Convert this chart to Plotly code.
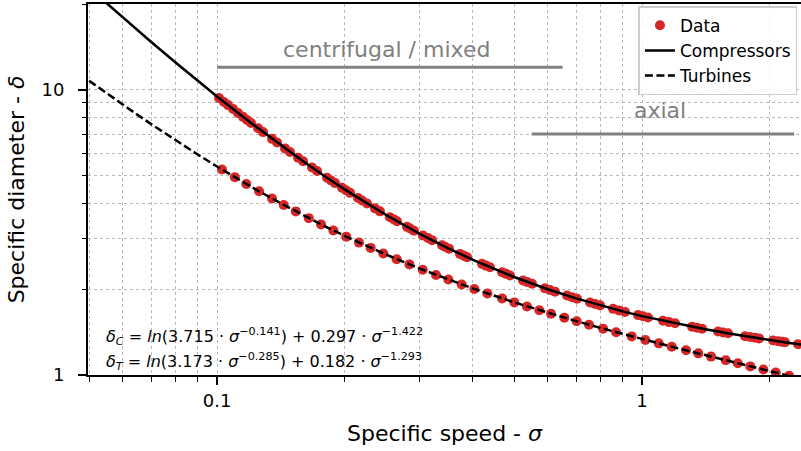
import numpy as np
import plotly.graph_objects as go

# ---------------- data ----------------
comp_sigma = [0.1011, 0.1038, 0.1061, 0.1091, 0.1120, 0.1151, 0.1176, 0.1202, 0.1249, 0.1283,
              0.1347, 0.1384, 0.1445, 0.1485, 0.1551, 0.1594, 0.1673, 0.1719, 0.1815, 0.1854,
              0.1895, 0.1968, 0.2011, 0.2056, 0.2147, 0.2194, 0.2254, 0.2353, 0.2417, 0.2552,
              0.2608, 0.2651, 0.2799, 0.2845, 0.2907, 0.3052, 0.3136, 0.3205, 0.3383, 0.3439,
              0.3514, 0.3729, 0.3811, 0.3874, 0.4201, 0.4293, 0.4387, 0.4685, 0.4786, 0.4891,
              0.5248, 0.5361, 0.5510, 0.5911, 0.6073, 0.6240, 0.6660, 0.6843, 0.7030, 0.7544,
              0.7751, 0.7964, 0.8546, 0.8830, 0.9120, 0.9786, 1.0054, 1.0330, 1.1205, 1.1575,
              1.1958, 1.3110, 1.3470, 1.3840, 1.5095, 1.5509, 1.5935, 1.7474, 1.7954, 1.8448,
              1.8852, 2.0336, 2.0893, 2.1350, 2.1700, 2.3287]
comp_delta = [9.364, 9.067, 8.839, 8.562, 8.296, 8.040, 7.843, 7.651, 7.329, 7.108,
              6.732, 6.534, 6.233, 6.053, 5.780, 5.617, 5.339, 5.192, 4.916, 4.811,
              4.709, 4.537, 4.444, 4.352, 4.178, 4.094, 3.994, 3.840, 3.749, 3.575,
              3.509, 3.461, 3.308, 3.264, 3.207, 3.085, 3.021, 2.971, 2.852, 2.818,
              2.774, 2.659, 2.619, 2.590, 2.453, 2.419, 2.387, 2.292, 2.263, 2.234,
              2.146, 2.121, 2.090, 2.013, 1.986, 1.960, 1.899, 1.875, 1.852, 1.795,
              1.774, 1.755, 1.706, 1.685, 1.664, 1.622, 1.606, 1.591, 1.549, 1.533,
              1.518, 1.476, 1.465, 1.454, 1.420, 1.410, 1.400, 1.368, 1.359, 1.350,
              1.344, 1.321, 1.313, 1.307, 1.303, 1.283]

turb_sigma = [0.1027, 0.1101, 0.1172, 0.1256, 0.1347, 0.1435, 0.1532, 0.1644, 0.1757, 0.1878,
              0.2014, 0.2158, 0.2299, 0.2461, 0.2647, 0.2835, 0.3048, 0.3275, 0.3501, 0.3764,
              0.4030, 0.4325, 0.4685, 0.5005, 0.5361, 0.5732, 0.6107, 0.6564, 0.7019, 0.7503,
              0.8095, 0.8688, 0.9457, 1.0180, 1.0947, 1.1745, 1.2690, 1.3565, 1.4535, 1.5737,
              1.6800, 1.7980, 1.9297, 2.0636, 2.2180]
turb_delta = [5.254, 4.942, 4.677, 4.409, 4.157, 3.948, 3.748, 3.549, 3.374, 3.213,
              3.056, 2.913, 2.791, 2.669, 2.548, 2.443, 2.339, 2.243, 2.161, 2.077,
              2.003, 1.932, 1.856, 1.797, 1.739, 1.687, 1.639, 1.589, 1.543, 1.500,
              1.454, 1.413, 1.366, 1.327, 1.291, 1.257, 1.221, 1.191, 1.160, 1.126,
              1.100, 1.072, 1.045, 1.020, 0.993]

line_sigma = [0.05, 0.055, 0.06, 0.065, 0.07, 0.08, 0.09, 0.1, 0.12, 0.14,
              0.16, 0.18, 0.2, 0.25, 0.3, 0.35, 0.4, 0.5, 0.6, 0.7,
              0.8, 0.9, 1.0, 1.2, 1.4, 1.6, 1.8, 2.0, 2.2, 2.4]
line_comp = [22.76, 20.08, 17.93, 16.18, 14.72, 12.45, 10.77, 9.483, 7.667, 6.455,
             5.592, 4.958, 4.468, 3.640, 3.127, 2.782, 2.535, 2.206, 1.998, 1.856,
             1.752, 1.672, 1.609, 1.516, 1.449, 1.398, 1.358, 1.326, 1.298, 1.275]
line_turb = [10.76, 9.723, 8.872, 8.170, 7.580, 6.644, 5.936, 5.384, 4.582, 4.028,
             3.623, 3.314, 3.071, 2.643, 2.361, 2.161, 2.011, 1.798, 1.652, 1.545,
             1.461, 1.394, 1.337, 1.246, 1.177, 1.120, 1.072, 1.031, 0.9955, 0.9638]

centrifugal_sigma = [0.1, 0.65]
centrifugal_delta = [12, 12]
axial_sigma = [0.55, 2.28]
axial_delta = [7, 7]

x_tickvals = [0.1, 1]
x_ticktext = ["0.1", "1"]
y_tickvals = [1, 10]
y_ticktext = ["1", "10"]
x_limits = [0.0497, 2.366]
y_limits = [1, 20]

eq_comp = ("<i>δ</i><sub><i>C</i></sub> = <i>ln</i>(3.715 · <i>σ</i><sup>−0.141</sup>)"
           " + 0.297 · <i>σ</i><sup>−1.422</sup>")
eq_turb = ("<i>δ</i><sub><i>T</i></sub> = <i>ln</i>(3.173 · <i>σ</i><sup>−0.285</sup>)"
           " + 0.182 · <i>σ</i><sup>−1.293</sup>")

# ---------------- figure ----------------
RED = "#d62728"
GRAY = "#808080"
FONT = "DejaVu Sans"

fig = go.Figure()
fig.add_trace(go.Scatter(x=comp_sigma, y=comp_delta, mode="markers", name="Data",
                         legendgroup="data",
                         marker=dict(color=RED, size=10, line=dict(width=0))))
fig.add_trace(go.Scatter(x=turb_sigma, y=turb_delta, mode="markers", name="Data",
                         legendgroup="data", showlegend=False,
                         marker=dict(color=RED, size=10, line=dict(width=0))))
fig.add_trace(go.Scatter(x=line_sigma, y=line_comp, mode="lines", name="Compressors",
                         line=dict(color="black", width=2.5)))
fig.add_trace(go.Scatter(x=line_sigma, y=line_turb, mode="lines", name="Turbines",
                         line=dict(color="black", width=2.5, dash="8px,3.5px")))
fig.add_trace(go.Scatter(x=centrifugal_sigma, y=centrifugal_delta, mode="lines",
                         showlegend=False, hoverinfo="skip",
                         line=dict(color=GRAY, width=3)))
fig.add_trace(go.Scatter(x=axial_sigma, y=axial_delta, mode="lines",
                         showlegend=False, hoverinfo="skip",
                         line=dict(color=GRAY, width=3)))

grid = dict(showgrid=True, gridcolor="#b8b8b8", gridwidth=1, griddash="dot")
minor = dict(dtick="D1", ticks="outside", ticklen=4.5, tickwidth=1.2, tickcolor="black",
             showgrid=True, gridcolor="#b8b8b8", gridwidth=1, griddash="dot")

fig.update_xaxes(type="log", range=[np.log10(x_limits[0]), np.log10(x_limits[1])],
                 tickvals=x_tickvals, ticktext=x_ticktext, ticks="outside", ticklen=8,
                 tickwidth=1.5, tickcolor="black", showline=True, linecolor="black",
                 linewidth=2, mirror=True, zeroline=False, automargin=False,
                 tickfont=dict(size=18, family=FONT, color="black"),
                 ticklabelstandoff=0,
                 minor=minor, **grid,
                 title=dict(text="Specific speed - <i>σ</i>", standoff=16,
                            font=dict(size=22, family=FONT, color="black")))
fig.update_yaxes(type="log", range=[np.log10(y_limits[0]), np.log10(y_limits[1])],
                 tickvals=y_tickvals, ticktext=y_ticktext, ticks="outside", ticklen=8,
                 tickwidth=1.5, tickcolor="black", showline=True, linecolor="black",
                 linewidth=2, mirror=False, zeroline=False, automargin=False,
                 tickfont=dict(size=18, family=FONT, color="black"),
                 ticklabelstandoff=10,
                 minor=minor, **grid,
                 title=dict(text="Specific diameter - <i>δ</i>", standoff=11,
                            font=dict(size=22, family=FONT, color="black")))

fig.add_annotation(x=np.log10(0.25), y=np.log10(13.8), xref="x", yref="y",
                   text="centrifugal / mixed", showarrow=False,
                   font=dict(size=22, family=FONT, color=GRAY))
fig.add_annotation(x=np.log10(1.10), y=np.log10(8.44), xref="x", yref="y",
                   text="axial", showarrow=False,
                   font=dict(size=22, family=FONT, color=GRAY))
fig.add_annotation(x=0.022, y=0.105, xref="paper", yref="paper", xanchor="left",
                   yanchor="middle", text=eq_comp, showarrow=False,
                   font=dict(size=16, family=FONT, color="black"))
fig.add_annotation(x=0.022, y=0.037, xref="paper", yref="paper", xanchor="left",
                   yanchor="middle", text=eq_turb, showarrow=False,
                   font=dict(size=16, family=FONT, color="black"))

fig.update_layout(width=801, height=451,
                  margin=dict(l=88, r=0, t=4, b=76),
                  plot_bgcolor="white", paper_bgcolor="white",
                  font=dict(family=FONT, color="black"),
                  showlegend=True,
                  legend=dict(x=0.772, y=0.994, xanchor="left", yanchor="top",
                              bgcolor="rgba(255,255,255,0.85)", bordercolor="#cccccc",
                              borderwidth=1.5, tracegroupgap=0,
                              font=dict(size=17, family=FONT, color="black")))

fig.write_html("out.html", config={"displayModeBar": False},
               post_script="document.body.style.margin='0';")
